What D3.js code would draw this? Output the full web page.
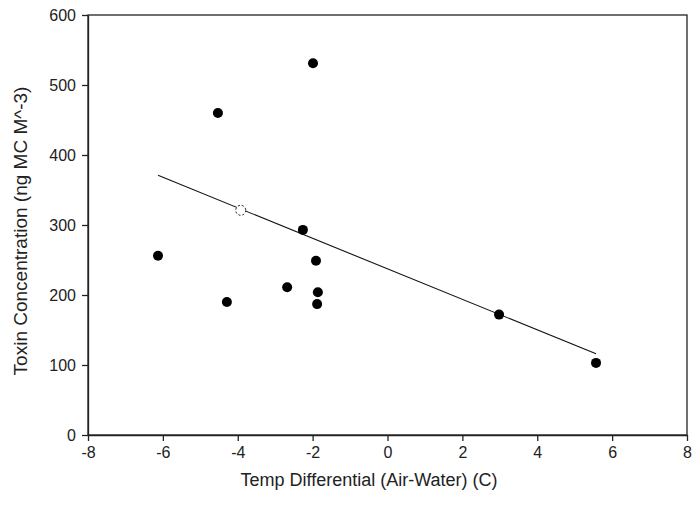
<!DOCTYPE html>
<html>
<head>
<meta charset="utf-8">
<script src="https://cdn.jsdelivr.net/npm/d3@7"></script>
<style>
  body { margin: 0; background: #fff; }
  text { font-family: "Liberation Sans", Arial, sans-serif; fill: #222; }
  .axis path, .axis line { stroke: #222; stroke-width: 1.3; }
  .axis text { font-size: 16px; }
</style>
</head>
<body>
<div id="chart"></div>
<script>
// data
let tempDiff = [-6.13, -4.53, -4.29, -2.68, -1.99, -2.26, -1.91, -1.86, -1.88, 2.98, 5.57];
let toxin    = [256, 460, 190, 211, 531, 293, 249, 204, 187, 172, 103];
let hollowPoint = {x: -3.92, y: 321};
let fitX = [-6.13, 5.57];
let fitY = [371, 116];
let xTicks = [-8, -6, -4, -2, 0, 2, 4, 6, 8];
let yTicks = [0, 100, 200, 300, 400, 500, 600];

let width = 692, height = 510;
let margin = {top: 15, right: 5, bottom: 75, left: 88};

let svg = d3.select("#chart").append("svg")
    .attr("width", width)
    .attr("height", height);

let xScale = d3.scaleLinear().domain([-8, 8]).range([margin.left, width - margin.right]);
let yScale = d3.scaleLinear().domain([0, 600]).range([height - margin.bottom, margin.top]);

// frame round the plot
svg.append("rect")
    .attr("x", margin.left)
    .attr("y", margin.top)
    .attr("width", width - margin.right - margin.left)
    .attr("height", height - margin.bottom - margin.top)
    .attr("fill", "none")
    .attr("stroke", "#222")
    .attr("stroke-width", 1.3);

// plain hyphen for negatives, like the original
let fmt = d => String(d);

let xAxis = d3.axisBottom(xScale).tickValues(xTicks).tickFormat(fmt)
    .tickSize(6).tickSizeOuter(0).tickPadding(6);
let yAxis = d3.axisLeft(yScale).tickValues(yTicks).tickFormat(fmt)
    .tickSize(6).tickSizeOuter(0).tickPadding(6);

svg.append("g").attr("class", "axis")
    .attr("transform", "translate(0," + (height - margin.bottom) + ")")
    .call(xAxis);
svg.append("g").attr("class", "axis")
    .attr("transform", "translate(" + margin.left + ",0)")
    .call(yAxis);

// axis labels
svg.append("text")
    .attr("x", 369)
    .attr("y", 486)
    .attr("text-anchor", "middle")
    .style("font-size", "18px")
    .text("Temp Differential (Air-Water) (C)");

svg.append("text")
    .attr("transform", "translate(27,231) rotate(-90)")
    .attr("text-anchor", "middle")
    .style("font-size", "19px")
    .text("Toxin Concentration (ng MC M^-3)");

// regression line
let fitPoints = fitX.map((x, i) => ({x: x, y: fitY[i]}));
let lineGen = d3.line().x(d => xScale(d.x)).y(d => yScale(d.y));
svg.append("path")
    .datum(fitPoints)
    .attr("d", lineGen)
    .attr("fill", "none")
    .attr("stroke", "#111")
    .attr("stroke-width", 1.1);

// hollow point
svg.append("circle")
    .attr("cx", xScale(hollowPoint.x))
    .attr("cy", yScale(hollowPoint.y))
    .attr("r", 5)
    .attr("fill", "#fff")
    .attr("stroke", "#111")
    .attr("stroke-width", 1)
    .attr("stroke-dasharray", "2,2");

// points
let points = tempDiff.map((x, i) => ({x: x, y: toxin[i]}));
svg.selectAll(".dot")
    .data(points)
    .enter().append("circle")
    .attr("class", "dot")
    .attr("cx", d => xScale(d.x))
    .attr("cy", d => yScale(d.y))
    .attr("r", 5)
    .attr("fill", "#000");
</script>
</body>
</html>
